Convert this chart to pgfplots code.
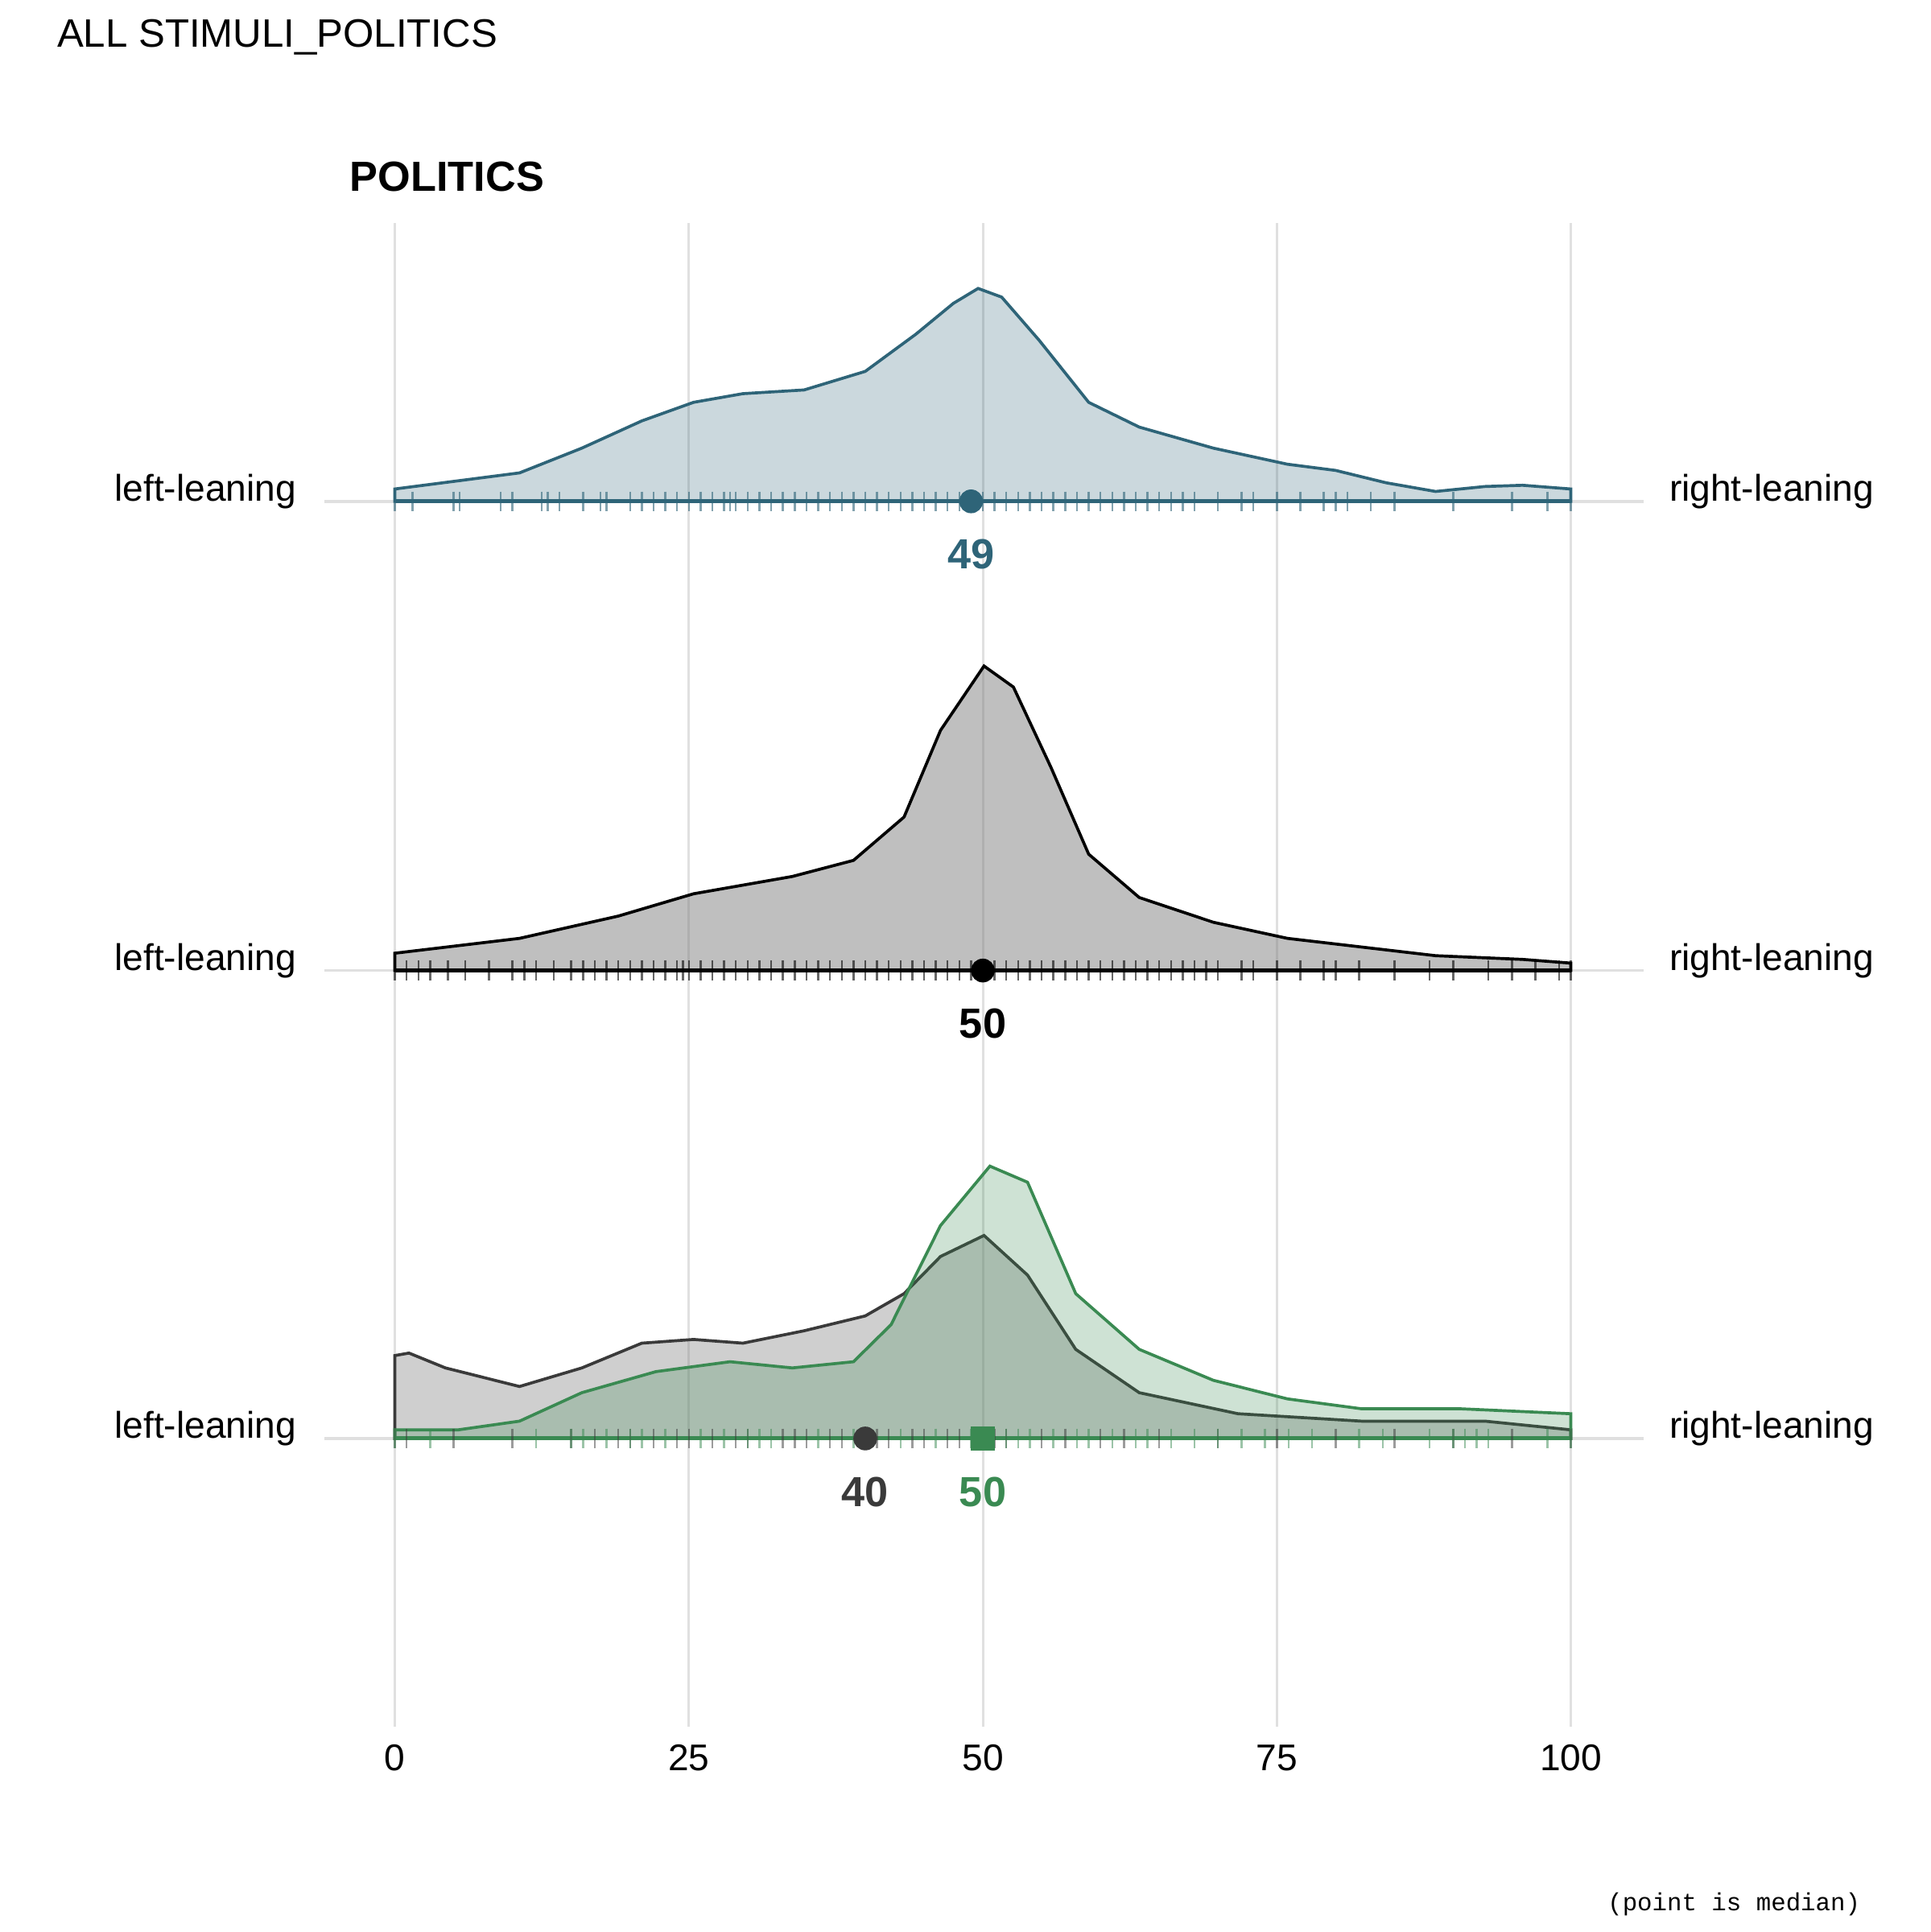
\documentclass[border=0pt]{standalone}
\usepackage{pgfplots}
\pgfplotsset{compat=1.18}
\usepackage{fontspec}
\setmainfont{Liberation Sans}
\newfontfamily\capfont{Liberation Mono}
\definecolor{cblue}{HTML}{2E6478}
\definecolor{cgreen}{HTML}{3A8A52}
\definecolor{cgray}{HTML}{3A3A3A}
\definecolor{gridc}{HTML}{E0E0E0}
\begin{document}
\begin{tikzpicture}
\begin{axis}[scale only axis, width=390pt, height=390pt,
  xmin=-33.58, xmax=130.63, ymin=-1560, ymax=0, hide axis, clip=false]
\path (axis cs:-33.58,-1560) rectangle (axis cs:130.63,0);
% grid
\pgfplotsinvokeforeach{0,25,50,75,100}{
  \draw[gridc, line width=0.5pt] (axis cs:#1,-180) -- (axis cs:#1,-1395);
  \node[font=\fontsize{7.5}{9}\selectfont] at (axis cs:#1,-1420) {#1};
}
\pgfplotsinvokeforeach{405,784,1162}{
  \draw[gridc, line width=0.6pt] (axis cs:-6,-#1) -- (axis cs:106.2,-#1);
  \node[anchor=east,font=\fontsize{7.5}{9}\selectfont] at (axis cs:-6.9,-#1+8) {left-leaning};
  \node[anchor=west,font=\fontsize{7.5}{9}\selectfont] at (axis cs:106.9,-#1+8) {right-leaning};
}
% densities
\addplot[cblue, line width=0.6pt, fill=cblue, fill opacity=0.25] coordinates {
(0,-405)(0,-395)(10.6,-382)(15.9,-362)(21,-340)(25.4,-325)(29.6,-318)(34.8,-315)(40,-300)(44.3,-270)(47.5,-245)(49.6,-233)(51.6,-240)(54.8,-275)(59,-325)(63.3,-345)(69.6,-362)(75.9,-375)(80,-380)(84.3,-390)(88.5,-397)(92.7,-393)(95.9,-392)(100,-395)(100,-405)} -- cycle;
\addplot[black, line width=0.6pt, fill=gray, fill opacity=0.5] coordinates {
(0,-784)(0,-770)(10.6,-758)(19,-740)(25.4,-722)(33.8,-708)(39,-695)(43.3,-660)(46.4,-590)(50.1,-538)(52.6,-555)(55.8,-620)(59,-690)(63.3,-725)(69.6,-745)(75.9,-758)(82.2,-765)(88.5,-772)(95.9,-775)(100,-778)(100,-784)} -- cycle;
\addplot[cgray, line width=0.6pt, fill=gray, fill opacity=0.38] coordinates {
(0,-1162)(0,-1095)(1.2,-1093)(4.3,-1105)(10.6,-1120)(15.9,-1105)(21,-1085)(25.4,-1082)(29.6,-1085)(34.8,-1075)(40,-1063)(43.3,-1045)(46.4,-1015)(50.1,-998)(53.8,-1030)(57.9,-1090)(63.3,-1125)(71.7,-1142)(82.2,-1148)(92.7,-1148)(100,-1155)(100,-1162)} -- cycle;
\addplot[cgreen, line width=0.6pt, fill=cgreen, fill opacity=0.25] coordinates {
(0,-1162)(0,-1155)(5.4,-1155)(10.6,-1148)(15.9,-1125)(22.2,-1108)(28.5,-1100)(33.8,-1105)(39,-1100)(42.2,-1070)(46.4,-990)(50.6,-942)(53.8,-955)(57.9,-1045)(63.3,-1090)(69.6,-1115)(75.9,-1130)(82.2,-1138)(90.6,-1138)(100,-1142)(100,-1162)} -- cycle;
% baselines
\addplot[cblue, line width=0.8pt] coordinates {(0,-405)(100,-405)};
\addplot[black, line width=0.8pt] coordinates {(0,-784)(100,-784)};
\addplot[cgreen, line width=0.8pt] coordinates {(0,-1162)(100,-1162)};
% rugs
\addplot[only marks, mark=|, mark size=2pt, cblue, mark options={opacity=0.6, line width=0.4pt}] table[y expr=-405] {
x
0
1.5
5
5.5
9
10
12.5
13
14
16
17.5
18
20
21
22
23
24
25
26
27
28
28.5
29
30
31
32
33
34
35
36
37
38
39
40
41
42
43
44
45
46
47
48
49
50
51
52
53
54
55
56
57
58
59
60
61
62
63
64
65
66
67
68
70
72
73
75
77
79
80
81
83
85
90
95
98
100
};
\addplot[only marks, mark=|, mark size=2pt, black, mark options={opacity=0.6, line width=0.4pt}] table[y expr=-784] {
x
0
1
2
3
4.5
6
8
10
11
12
13.5
15
16
17
18
19
20
21
22
23
24
24.5
25
26
27
28
29
30
31
32
33
34
35
36
37
38
39
40
41
42
43
44
45
46
47
48
49
50
51
52
53
54
55
56
57
58
59
60
61
62
63
64
65
66
67
68
69
70
72
73
75
77
79
80
82
85
88
90
93
95
97
99
100
};
\addplot[only marks, mark=|, mark size=2pt, cgray, mark options={opacity=0.5, line width=0.4pt}] table[y expr=-1162] {
x
0
1
5
10
15
17
19
20
22
24
25
27
29
30
33
34
35
37
38
40
41
42
44
45
47
48
50
51
52
55
57
60
62
65
70
75
80
85
90
95
100
};
\addplot[only marks, mark=|, mark size=2pt, cgreen, mark options={opacity=0.5, line width=0.4pt}] table[y expr=-1162] {
x
0
3
12
15
16
18
20
21
23
26
28
30
31
32
36
39
43
46
49
50
52
53
54
56
58
59
61
63
64
66
68
70
72
74
76
78
82
84
88
90
91
92
93
98
100
};
% medians
\addplot[only marks, mark=*, mark size=2.2pt, cblue] coordinates {(49,-405)};
\addplot[only marks, mark=*, mark size=2.2pt, black] coordinates {(50,-784)};
\addplot[only marks, mark=*, mark size=2.2pt, cgray] coordinates {(40,-1162)};
\addplot[only marks, mark=square*, mark size=2.2pt, cgreen] coordinates {(50,-1162)};
\node[cblue, font=\bfseries\fontsize{8.5}{10}\selectfont] at (axis cs:49,-448) {49};
\node[black, font=\bfseries\fontsize{8.5}{10}\selectfont] at (axis cs:50,-827) {50};
\node[cgray, font=\bfseries\fontsize{8.5}{10}\selectfont] at (axis cs:40,-1205) {40};
\node[cgreen, font=\bfseries\fontsize{8.5}{10}\selectfont] at (axis cs:50,-1205) {50};
% titles
\node[anchor=west, font=\fontsize{8}{10}\selectfont] at (axis cs:-30.2,-30) {ALL STIMULI\_POLITICS};
\node[anchor=west, font=\bfseries\fontsize{8.5}{10}\selectfont] at (axis cs:-5.3,-143) {POLITICS};
\node[anchor=east, font=\capfont\fontsize{5}{6}\selectfont] at (axis cs:126.1,-1538) {(point is median)};
\end{axis}
\end{tikzpicture}
\end{document}
